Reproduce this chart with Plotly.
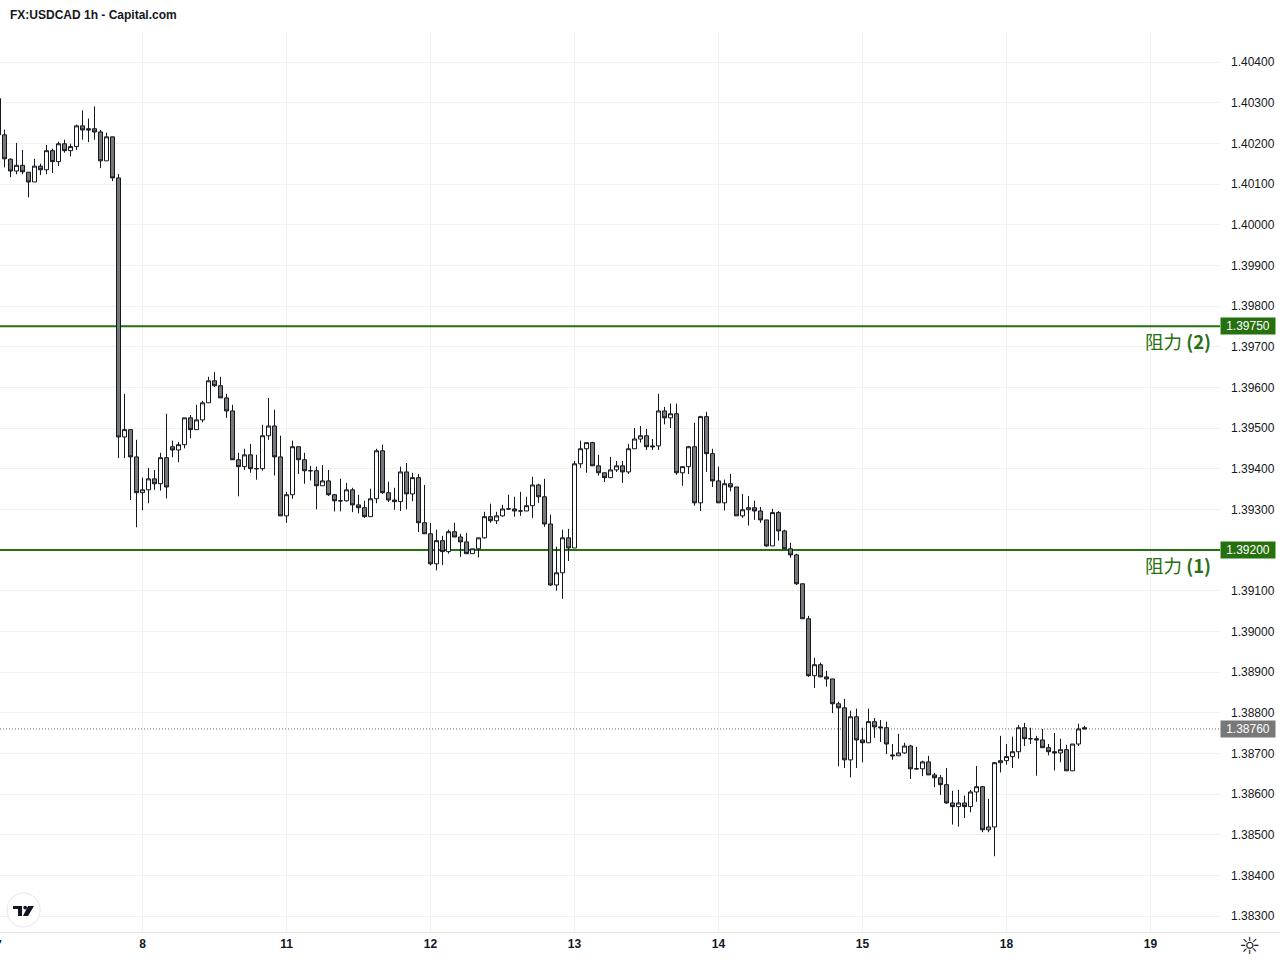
import plotly.graph_objects as go

# One hour candles.
opens = [
    1.40310, 1.40221, 1.40161, 1.40132, 1.40146, 1.40129, 1.40105, 1.40144, 1.40135, 1.40182,
    1.40155, 1.40199, 1.40182, 1.40192, 1.40243, 1.40236, 1.40236, 1.40228, 1.40157, 1.40216,
    1.40115, 1.39478, 1.39496, 1.39429, 1.39341, 1.39348, 1.39375, 1.39363, 1.39427, 1.39454,
    1.39446, 1.39459, 1.39525, 1.39496, 1.39520, 1.39562, 1.39616, 1.39604, 1.39574, 1.39542,
    1.39422, 1.39405, 1.39434, 1.39400, 1.39400, 1.39481, 1.39505, 1.39429, 1.39284, 1.39336,
    1.39454, 1.39422, 1.39395, 1.39395, 1.39358, 1.39370, 1.39336, 1.39321, 1.39321, 1.39348,
    1.39311, 1.39304, 1.39282, 1.39326, 1.39444, 1.39341, 1.39323, 1.39319, 1.39392, 1.39338,
    1.39378, 1.39267, 1.39240, 1.39166, 1.39223, 1.39196, 1.39245, 1.39232, 1.39220, 1.39191,
    1.39203, 1.39230, 1.39282, 1.39272, 1.39284, 1.39301, 1.39301, 1.39296, 1.39296, 1.39309,
    1.39360, 1.39331, 1.39264, 1.39114, 1.39144, 1.39230, 1.39205, 1.39412, 1.39449, 1.39464,
    1.39407, 1.39390, 1.39378, 1.39397, 1.39407, 1.39392, 1.39449, 1.39473, 1.39481, 1.39456,
    1.39456, 1.39542, 1.39525, 1.39535, 1.39390, 1.39405, 1.39454, 1.39316, 1.39528, 1.39437,
    1.39370, 1.39316, 1.39363, 1.39355, 1.39284, 1.39299, 1.39304, 1.39296, 1.39274, 1.39210,
    1.39292, 1.39247, 1.39203, 1.39188, 1.39117, 1.39031, 1.38891, 1.38918, 1.38888, 1.38883,
    1.38822, 1.38812, 1.38684, 1.38790, 1.38733, 1.38726, 1.38778, 1.38765, 1.38763, 1.38696,
    1.38694, 1.38701, 1.38718, 1.38662, 1.38662, 1.38679, 1.38647, 1.38640, 1.38623, 1.38578,
    1.38569, 1.38578, 1.38569, 1.38605, 1.38618, 1.38512, 1.38519, 1.38677, 1.38682, 1.38692,
    1.38704, 1.38763, 1.38736, 1.38736, 1.38733, 1.38714, 1.38704, 1.38701, 1.38709, 1.38657,
    1.38723, 1.38763,
]
highs = [
    1.40310, 1.40234, 1.40163, 1.40201, 1.40184, 1.40129, 1.40162, 1.40150, 1.40196, 1.40187,
    1.40204, 1.40209, 1.40199, 1.40246, 1.40281, 1.40261, 1.40291, 1.40233, 1.40226, 1.40216,
    1.40125, 1.39584, 1.39496, 1.39471, 1.39378, 1.39402, 1.39397, 1.39439, 1.39535, 1.39469,
    1.39466, 1.39525, 1.39532, 1.39557, 1.39567, 1.39626, 1.39638, 1.39626, 1.39584, 1.39557,
    1.39439, 1.39449, 1.39461, 1.39434, 1.39508, 1.39574, 1.39545, 1.39481, 1.39343, 1.39469,
    1.39454, 1.39439, 1.39407, 1.39405, 1.39409, 1.39397, 1.39338, 1.39375, 1.39365, 1.39353,
    1.39336, 1.39321, 1.39351, 1.39449, 1.39459, 1.39368, 1.39353, 1.39405, 1.39414, 1.39390,
    1.39387, 1.39360, 1.39267, 1.39250, 1.39235, 1.39250, 1.39267, 1.39240, 1.39242, 1.39203,
    1.39230, 1.39294, 1.39314, 1.39294, 1.39311, 1.39336, 1.39331, 1.39343, 1.39331, 1.39380,
    1.39363, 1.39375, 1.39287, 1.39208, 1.39250, 1.39252, 1.39419, 1.39469, 1.39464, 1.39466,
    1.39434, 1.39390, 1.39429, 1.39419, 1.39419, 1.39461, 1.39500, 1.39505, 1.39498, 1.39473,
    1.39584, 1.39552, 1.39560, 1.39560, 1.39405, 1.39456, 1.39513, 1.39530, 1.39540, 1.39449,
    1.39405, 1.39373, 1.39387, 1.39355, 1.39338, 1.39333, 1.39321, 1.39306, 1.39274, 1.39301,
    1.39296, 1.39250, 1.39218, 1.39191, 1.39117, 1.39038, 1.38935, 1.38923, 1.38903, 1.38883,
    1.38827, 1.38834, 1.38805, 1.38810, 1.38763, 1.38810, 1.38787, 1.38782, 1.38778, 1.38723,
    1.38748, 1.38726, 1.38721, 1.38716, 1.38682, 1.38694, 1.38652, 1.38647, 1.38664, 1.38608,
    1.38610, 1.38596, 1.38610, 1.38669, 1.38620, 1.38588, 1.38679, 1.38743, 1.38723, 1.38741,
    1.38770, 1.38775, 1.38763, 1.38743, 1.38760, 1.38723, 1.38750, 1.38736, 1.38721, 1.38723,
    1.38773, 1.38768,
]
lows = [
    1.40217, 1.40141, 1.40117, 1.40124, 1.40124, 1.40067, 1.40105, 1.40122, 1.40124, 1.40127,
    1.40144, 1.40177, 1.40168, 1.40184, 1.40209, 1.40203, 1.40209, 1.40139, 1.40157, 1.40107,
    1.39426, 1.39426, 1.39323, 1.39256, 1.39298, 1.39315, 1.39348, 1.39346, 1.39327, 1.39428,
    1.39416, 1.39450, 1.39475, 1.39496, 1.39514, 1.39562, 1.39601, 1.39574, 1.39525, 1.39422,
    1.39332, 1.39397, 1.39390, 1.39373, 1.39395, 1.39471, 1.39383, 1.39284, 1.39267, 1.39326,
    1.39387, 1.39363, 1.39371, 1.39300, 1.39358, 1.39333, 1.39295, 1.39295, 1.39319, 1.39293,
    1.39290, 1.39279, 1.39282, 1.39315, 1.39338, 1.39318, 1.39299, 1.39296, 1.39300, 1.39320,
    1.39244, 1.39240, 1.39162, 1.39150, 1.39163, 1.39191, 1.39232, 1.39183, 1.39191, 1.39191,
    1.39182, 1.39228, 1.39267, 1.39264, 1.39282, 1.39301, 1.39282, 1.39284, 1.39296, 1.39279,
    1.39316, 1.39257, 1.39112, 1.39100, 1.39080, 1.39173, 1.39205, 1.39402, 1.39390, 1.39407,
    1.39383, 1.39367, 1.39378, 1.39392, 1.39365, 1.39387, 1.39449, 1.39464, 1.39446, 1.39446,
    1.39446, 1.39509, 1.39500, 1.39385, 1.39358, 1.39387, 1.39309, 1.39296, 1.39392, 1.39355,
    1.39316, 1.39297, 1.39344, 1.39284, 1.39279, 1.39260, 1.39274, 1.39267, 1.39208, 1.39210,
    1.39223, 1.39203, 1.39181, 1.39114, 1.39031, 1.38888, 1.38861, 1.38888, 1.38864, 1.38799,
    1.38668, 1.38664, 1.38641, 1.38664, 1.38678, 1.38726, 1.38738, 1.38728, 1.38698, 1.38684,
    1.38694, 1.38699, 1.38637, 1.38660, 1.38644, 1.38647, 1.38617, 1.38598, 1.38576, 1.38525,
    1.38520, 1.38541, 1.38555, 1.38581, 1.38506, 1.38506, 1.38447, 1.38653, 1.38672, 1.38664,
    1.38687, 1.38718, 1.38723, 1.38645, 1.38714, 1.38695, 1.38658, 1.38678, 1.38657, 1.38657,
    1.38718, 1.38760,
]
closes = [
    1.40221, 1.40162, 1.40132, 1.40146, 1.40130, 1.40105, 1.40144, 1.40135, 1.40182, 1.40155,
    1.40199, 1.40182, 1.40192, 1.40243, 1.40233, 1.40233, 1.40228, 1.40157, 1.40216, 1.40115,
    1.39478, 1.39496, 1.39429, 1.39341, 1.39348, 1.39375, 1.39363, 1.39427, 1.39355, 1.39446,
    1.39459, 1.39525, 1.39496, 1.39520, 1.39562, 1.39616, 1.39604, 1.39574, 1.39542, 1.39422,
    1.39405, 1.39434, 1.39400, 1.39400, 1.39481, 1.39505, 1.39429, 1.39284, 1.39336, 1.39454,
    1.39422, 1.39395, 1.39395, 1.39358, 1.39370, 1.39336, 1.39321, 1.39321, 1.39348, 1.39311,
    1.39304, 1.39282, 1.39326, 1.39444, 1.39341, 1.39323, 1.39319, 1.39392, 1.39338, 1.39378,
    1.39267, 1.39240, 1.39166, 1.39223, 1.39196, 1.39245, 1.39232, 1.39220, 1.39191, 1.39203,
    1.39230, 1.39282, 1.39272, 1.39284, 1.39301, 1.39301, 1.39296, 1.39296, 1.39309, 1.39360,
    1.39331, 1.39264, 1.39114, 1.39144, 1.39230, 1.39205, 1.39412, 1.39449, 1.39464, 1.39407,
    1.39390, 1.39378, 1.39397, 1.39407, 1.39392, 1.39449, 1.39473, 1.39481, 1.39454, 1.39454,
    1.39542, 1.39525, 1.39535, 1.39390, 1.39405, 1.39454, 1.39316, 1.39528, 1.39437, 1.39370,
    1.39316, 1.39363, 1.39355, 1.39284, 1.39299, 1.39304, 1.39296, 1.39274, 1.39210, 1.39292,
    1.39247, 1.39203, 1.39188, 1.39117, 1.39031, 1.38891, 1.38918, 1.38888, 1.38883, 1.38822,
    1.38812, 1.38684, 1.38790, 1.38733, 1.38726, 1.38778, 1.38765, 1.38763, 1.38723, 1.38694,
    1.38701, 1.38718, 1.38662, 1.38662, 1.38679, 1.38647, 1.38640, 1.38623, 1.38578, 1.38569,
    1.38578, 1.38569, 1.38605, 1.38618, 1.38512, 1.38519, 1.38677, 1.38682, 1.38692, 1.38704,
    1.38763, 1.38736, 1.38736, 1.38733, 1.38714, 1.38704, 1.38701, 1.38709, 1.38657, 1.38723,
    1.38760, 1.38760,
]

# Bar numbers where a new day starts, weekend hours are left out.
day_bars = [24, 48, 72, 96, 120, 144, 168, 192]
day_labels = ["8", "11", "12", "13", "14", "15", "18", "19"]

# 1.392 has no plain label, the resistance box stands there.
price_ticks = [1.383, 1.384, 1.385, 1.386, 1.387, 1.388, 1.389, 1.390, 1.391, 1.393,
               1.394, 1.395, 1.396, 1.397, 1.398, 1.399, 1.400, 1.401, 1.402, 1.403, 1.404]

resistance_levels = [1.3975, 1.3920]
resistance_names = ["阻力", "阻力"]
resistance_tags = ["(2)", "(1)"]
last_price = 1.3876

INK = "#131722"
GREEN = "#26700f"
GRAY = "#787878"
GRID = "#f1f1f1"
PLOT_W = 1220
PLOT_H = 900
PLOT_TOP = 32
X_RANGE = [0.25, 1221.5 / 6]


# Pixel position of the page to paper coordinates, only used for the decoration.
def px(x):
    return x / PLOT_W


def py(y):
    return 1 - (y - PLOT_TOP) / PLOT_H


fig = go.Figure(go.Candlestick(
    x=list(range(len(closes))),
    open=opens, high=highs, low=lows, close=closes,
    whiskerwidth=0,
    increasing=dict(fillcolor="#ffffff", line=dict(color=INK, width=1)),
    decreasing=dict(fillcolor=GRAY, line=dict(color=INK, width=1)),
    showlegend=False,
))

fig.update_layout(
    width=1280, height=960,
    margin=dict(l=0, r=60, t=32, b=28),
    paper_bgcolor="#ffffff", plot_bgcolor="#ffffff",
    font=dict(family="Liberation Sans, Arial", size=12, color=INK),
    boxgap=1 / 3, boxgroupgap=0,
    xaxis=dict(
        range=X_RANGE, rangeslider=dict(visible=False),
        tickmode="array", tickvals=day_bars, ticktext=day_labels,
        showgrid=True, gridcolor=GRID, gridwidth=1, zeroline=False,
        showline=False, ticks="", ticklabelstandoff=3,
        tickfont=dict(size=12, color=INK, family="Liberation Sans, Arial", weight=600),
    ),
    yaxis=dict(
        range=[1.382607, 1.404738], side="right",
        tickmode="array", tickvals=price_ticks, tickformat=".5f",
        showgrid=True, gridcolor=GRID, gridwidth=1, zeroline=False,
        showline=False, ticks="", ticklabelstandoff=10,
        tickfont=dict(size=12, color=INK),
    ),
)

# Axis border runs under the price scale too.
fig.add_shape(type="line", xref="paper", yref="paper", x0=0, x1=px(1280), y0=py(932.5), y1=py(932.5),
              line=dict(color="#e0e0e0", width=1))

# Horizontal levels sit on the grid and under the candles.
for level in resistance_levels:
    fig.add_shape(type="line", xref="x", yref="y", x0=X_RANGE[0], x1=X_RANGE[1], y0=level, y1=level,
                  layer="between", line=dict(color=GREEN, width=2))
fig.add_shape(type="line", xref="x", yref="y", x0=X_RANGE[0], x1=X_RANGE[1], y0=last_price, y1=last_price,
              layer="between", line=dict(color="#666666", width=1, dash="1px,2px"))


# Small price boxes on the scale.
def price_box(value, colour):
    fig.add_annotation(xref="paper", x=1, xanchor="left", yref="y", y=value, yanchor="middle",
                       text=f"{value:.5f}", showarrow=False, bgcolor=colour, width=54, height=16,
                       borderpad=0, align="center", font=dict(color="#ffffff", size=12))


for level in resistance_levels:
    price_box(level, GREEN)
price_box(last_price, GRAY)

for level, name, tag in zip(resistance_levels, resistance_names, resistance_tags):
    fig.add_annotation(xref="paper", x=px(1212.5), xanchor="right", yref="y", y=level, yanchor="top",
                       yshift=0, showarrow=False, text=f"{name} <b>{tag}</b>",
                       font=dict(family="Noto Sans CJK SC", size=18.5, color=GREEN))

fig.add_annotation(xref="paper", yref="paper", x=px(8), y=py(15), xanchor="left", yanchor="middle",
                   text="<b>FX:USDCAD 1h - Capital.com</b>", showarrow=False,
                   font=dict(size=12, color=INK))
# Day label of the first bar, cut by the page edge.
fig.add_annotation(xref="paper", yref="paper", x=px(-2), y=py(945), xanchor="center", yanchor="middle",
                   text="7", showarrow=False, font=dict(size=12, color=INK, weight=600))
fig.add_annotation(xref="paper", yref="paper", x=px(1250), y=py(946), xanchor="center", yanchor="middle",
                   text="☼", showarrow=False, font=dict(family="DejaVu Sans", size=24, color=INK))

# TradingView badge.
fig.add_shape(type="circle", xref="paper", yref="paper", x0=px(7), x1=px(40), y0=py(927), y1=py(893),
              fillcolor="#ffffff", line=dict(color="#e6e6e6", width=1))
for pts in ([(13, 906), (22, 906), (22, 916), (18, 916), (18, 909), (13, 909)],
            [(28, 906), (34, 906), (28, 916), (23, 916)]):
    path = "M " + " L ".join(f"{px(a):.5f},{py(b):.5f}" for a, b in pts) + " Z"
    fig.add_shape(type="path", xref="paper", yref="paper", path=path, fillcolor=INK, line=dict(width=0))
fig.add_shape(type="circle", xref="paper", yref="paper", x0=px(23.3), x1=px(27), y0=py(909.4), y1=py(905.7),
              fillcolor=INK, line=dict(width=0))

fig.write_html("out.html", config=dict(displayModeBar=False),
               post_script="document.body.style.margin='0'")
